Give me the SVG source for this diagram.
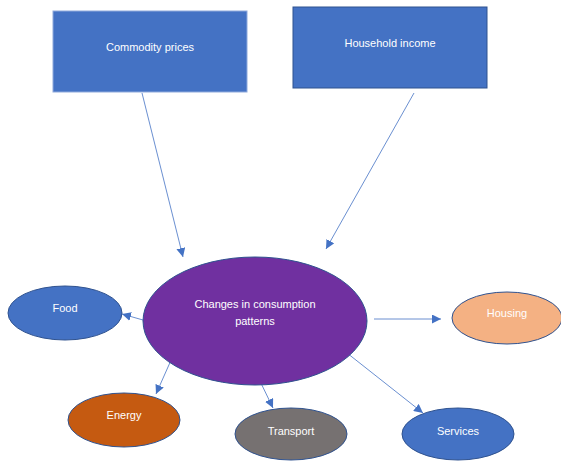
<svg xmlns="http://www.w3.org/2000/svg" width="561" height="461" viewBox="0 0 561 461">
<style>
text{font-family:"Liberation Sans",Arial,sans-serif;font-size:11px;fill:#ffffff;text-anchor:middle}
.c{stroke:#4472C4;stroke-width:0.8;fill:none;marker-end:url(#ah)}
.n{stroke:#2F528F;stroke-width:1}
</style>
<defs>
<marker id="ah" viewBox="0 0 10 10" refX="10" refY="5" markerWidth="9" markerHeight="9" markerUnits="userSpaceOnUse" orient="auto">
<path d="M0,0L10,5L0,10z" fill="#4472C4"/>
</marker>
</defs>
<rect width="561" height="461" fill="#ffffff"/>
<g id="connectors">
<line class="c" x1="142" y1="93" x2="183" y2="257"/>
<line class="c" x1="414" y1="93" x2="326" y2="249"/>
<line class="c" x1="143" y1="320" x2="122" y2="314"/>
<line class="c" x1="374" y1="319" x2="441" y2="319"/>
<line class="c" x1="172" y1="358" x2="156" y2="394"/>
<line class="c" x1="258" y1="377" x2="273" y2="408"/>
<line class="c" x1="347" y1="353" x2="423" y2="413"/>
</g>
<g id="commodity">
<rect x="53" y="11" width="194" height="81" fill="#4472C4" stroke="#8FAADC" stroke-width="1"/>
<text x="150" y="51">Commodity prices</text>
</g>
<g id="household">
<rect x="293" y="7" width="194" height="81" fill="#4472C4" class="n"/>
<text x="390" y="47">Household income</text>
</g>
<g id="changes">
<ellipse cx="255" cy="321" rx="112" ry="64" fill="#7030A0" class="n"/>
<text x="255" y="308">Changes in consumption</text>
<text x="255" y="325">patterns</text>
</g>
<g id="food">
<ellipse cx="65" cy="313" rx="57" ry="27" fill="#4472C4" class="n"/>
<text x="65" y="312">Food</text>
</g>
<g id="housing">
<ellipse cx="507" cy="318" rx="55" ry="26" fill="#F4B183" class="n"/>
<text x="507" y="317">Housing</text>
</g>
<g id="energy">
<ellipse cx="124" cy="420" rx="56" ry="27" fill="#C55A11" class="n"/>
<text x="124" y="419">Energy</text>
</g>
<g id="transport">
<ellipse cx="291" cy="434" rx="56" ry="26" fill="#767171" class="n"/>
<text x="291" y="435">Transport</text>
</g>
<g id="services">
<ellipse cx="458" cy="434" rx="56" ry="26" fill="#4472C4" class="n"/>
<text x="458" y="435">Services</text>
</g>
</svg>
